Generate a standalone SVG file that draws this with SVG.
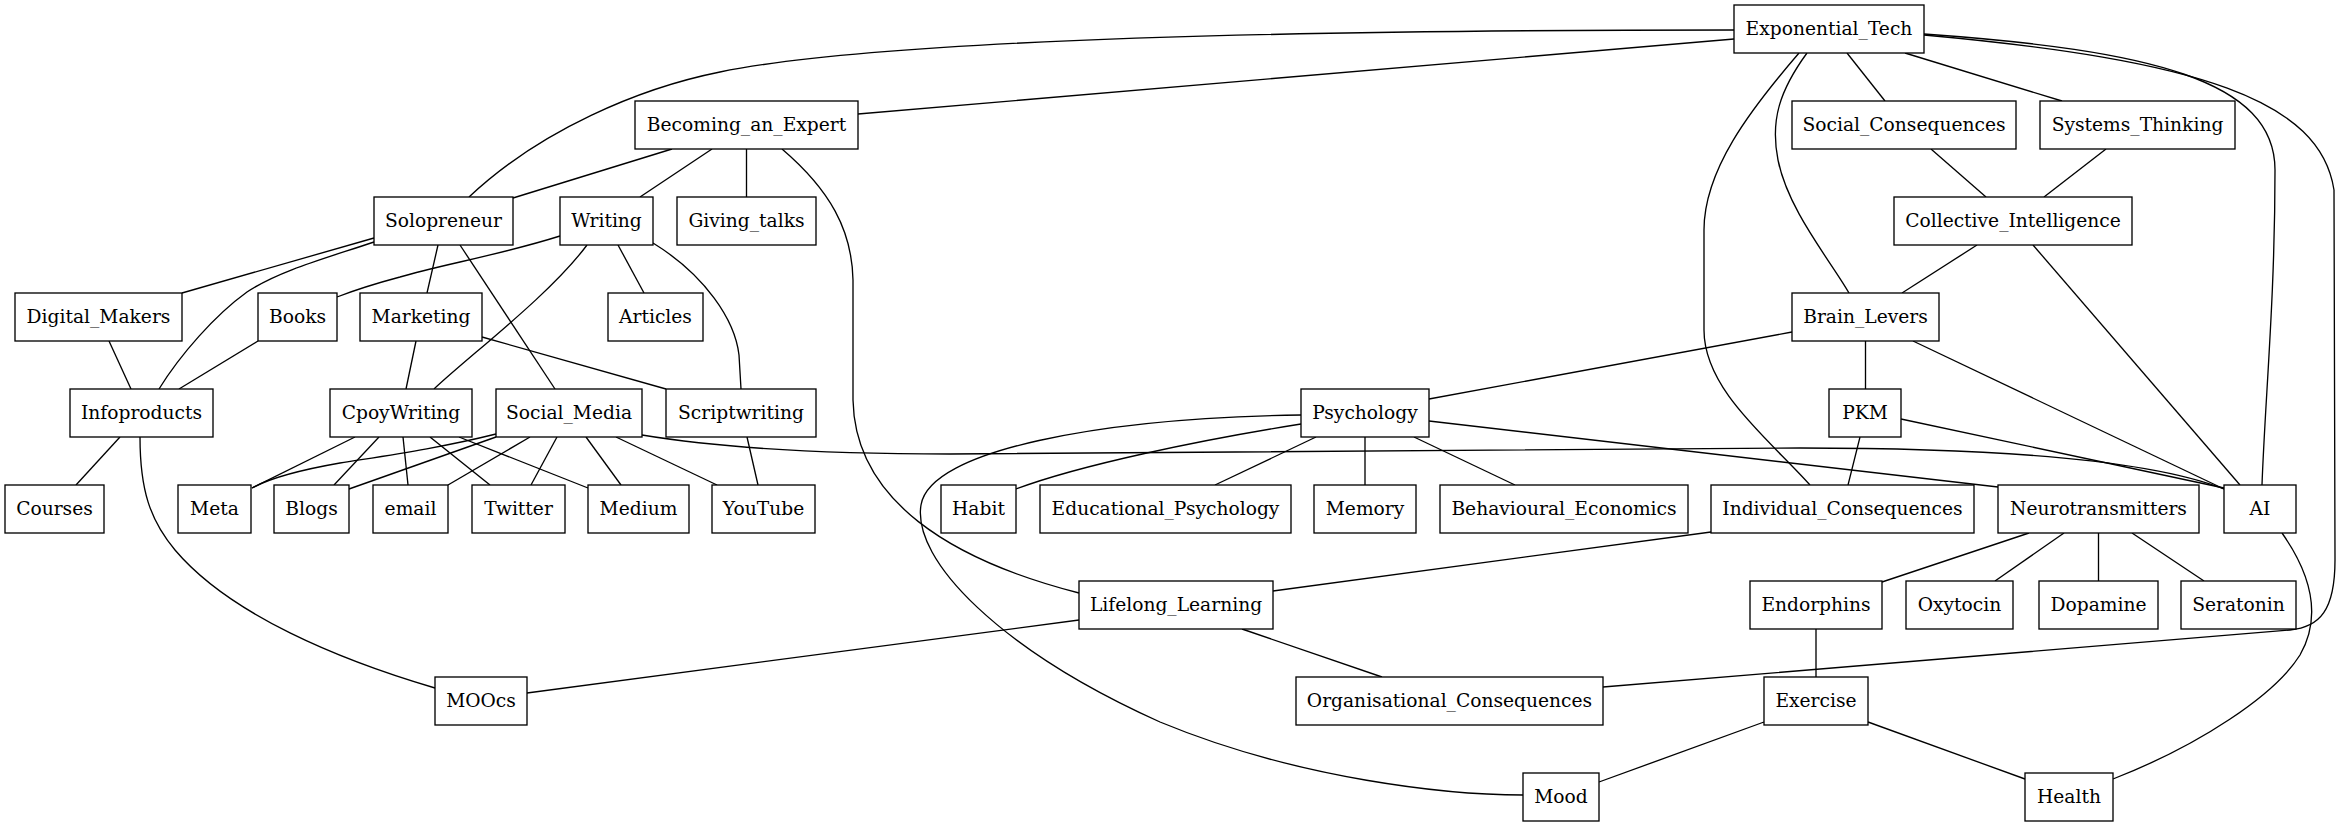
<svg xmlns="http://www.w3.org/2000/svg" width="2342" height="827" viewBox="0 0 2342 827">
<style>
.n rect{fill:#fff;stroke:#000;stroke-width:1.33}
.n text{font-family:"DejaVu Serif",serif;font-size:18.67px;text-anchor:middle;fill:#000}
#edges path{fill:none;stroke:#000;stroke-width:1.33}
</style>
<rect width="2342" height="827" fill="#fff"/>
<g id="edges">
<path d="M1734,30 C1400,30 900,35 720,72 C640,88 540,130 469,197"/>
<path d="M1734,39 L858,114"/>
<path d="M1847,53 L1885,101"/>
<path d="M1905,53 L2062,101"/>
<path d="M1807,53 C1780,90 1770,120 1778,160 C1788,210 1830,260 1849,293"/>
<path d="M1799,53 C1750,110 1704,170 1704,230 L1704,330 C1704,390 1770,440 1810,485"/>
<path d="M1924,34 C2150,50 2275,80 2275,170 C2275,300 2265,400 2262,485"/>
<path d="M1924,35 C2200,60 2320,100 2334,190 L2335,560 C2335,610 2320,627 2290,630 L1603,687"/>
<path d="M672,149 L513,198"/>
<path d="M712,149 L640,197"/>
<path d="M746.5,149 L746.5,197"/>
<path d="M782,149 C830,190 852,230 853,280 L853,400 C855,500 950,560 1079,593"/>
<path d="M374,238 L182,293"/>
<path d="M374,242 C330,257 280,270 247,292 C215,315 180,355 159,389"/>
<path d="M438,245 L427,293"/>
<path d="M460,245 L555,389"/>
<path d="M560,236 C500,255 440,265 400,277 C370,285 350,292 337,297"/>
<path d="M587,245 C550,295 470,355 434,389"/>
<path d="M618,245 L644,293"/>
<path d="M653,243 C705,275 735,320 739,355 L741,389"/>
<path d="M109,341 L131,389"/>
<path d="M258,341 L179,389"/>
<path d="M416,341 L406,389"/>
<path d="M482,337 L666,389"/>
<path d="M120,437 L76,485"/>
<path d="M140,437 C140,490 150,520 175,550 C230,615 340,660 435,688"/>
<path d="M355,437 L252,488"/>
<path d="M379,437 L334,485"/>
<path d="M403,437 L408,485"/>
<path d="M430,437 L490,485"/>
<path d="M459,437 L588,488"/>
<path d="M496,434 C440,448 390,455 340,463 C300,470 270,478 252,488"/>
<path d="M496,437 L349,489"/>
<path d="M530,437 L448,485"/>
<path d="M557,437 L531,485"/>
<path d="M586,437 L621,485"/>
<path d="M616,437 L717,485"/>
<path d="M642,435 C720,448 820,454 950,454 C1300,454 1600,448 1800,448 C2000,448 2150,460 2224,489"/>
<path d="M747,437 L758,485"/>
<path d="M1301,424 C1200,440 1080,465 1016,489"/>
<path d="M1301,415 C1100,418 930,450 921,505 C912,560 1000,650 1160,722 C1300,780 1450,795 1523,795"/>
<path d="M1316,437 L1215,485"/>
<path d="M1365,437 L1365,485"/>
<path d="M1414,437 L1515,485"/>
<path d="M1429,421 L1998,487"/>
<path d="M1792,332 L1429,399"/>
<path d="M1865.5,341 L1865.5,389"/>
<path d="M1913,341 L2224,489"/>
<path d="M1977,245 L1902,293"/>
<path d="M2033,245 L2240,485"/>
<path d="M1931,149 L1986,197"/>
<path d="M2106,149 L2044,197"/>
<path d="M1901,419 L2224,488"/>
<path d="M1860,437 L1848,485"/>
<path d="M1711,532 L1273,591"/>
<path d="M1079,620 L527,693"/>
<path d="M1242,629 L1382,677"/>
<path d="M2029,533 L1882,582"/>
<path d="M2064,533 L1995,581"/>
<path d="M2098.5,533 L2098.5,581"/>
<path d="M2132,533 L2204,581"/>
<path d="M1816,629 L1816,677"/>
<path d="M1764,722 L1599,782"/>
<path d="M1868,722 L2025,779"/>
<path d="M2282,533 C2315,580 2320,620 2300,655 C2275,695 2200,745 2113,779"/>
</g>
<g id="Exponential_Tech" class="n"><rect x="1734" y="5" width="190" height="48"/><text x="1829" y="35">Exponential_Tech</text></g>
<g id="Becoming_an_Expert" class="n"><rect x="635" y="101" width="223" height="48"/><text x="746.5" y="131">Becoming_an_Expert</text></g>
<g id="Social_Consequences" class="n"><rect x="1792" y="101" width="224" height="48"/><text x="1904" y="131">Social_Consequences</text></g>
<g id="Systems_Thinking" class="n"><rect x="2040" y="101" width="195" height="48"/><text x="2137.5" y="131">Systems_Thinking</text></g>
<g id="Solopreneur" class="n"><rect x="374" y="197" width="139" height="48"/><text x="443.5" y="227">Solopreneur</text></g>
<g id="Writing" class="n"><rect x="560" y="197" width="93" height="48"/><text x="606.5" y="227">Writing</text></g>
<g id="Giving_talks" class="n"><rect x="677" y="197" width="139" height="48"/><text x="746.5" y="227">Giving_talks</text></g>
<g id="Collective_Intelligence" class="n"><rect x="1894" y="197" width="238" height="48"/><text x="2013" y="227">Collective_Intelligence</text></g>
<g id="Digital_Makers" class="n"><rect x="15" y="293" width="167" height="48"/><text x="98.5" y="323">Digital_Makers</text></g>
<g id="Books" class="n"><rect x="258" y="293" width="79" height="48"/><text x="297.5" y="323">Books</text></g>
<g id="Marketing" class="n"><rect x="360" y="293" width="122" height="48"/><text x="421" y="323">Marketing</text></g>
<g id="Articles" class="n"><rect x="608" y="293" width="95" height="48"/><text x="655.5" y="323">Articles</text></g>
<g id="Brain_Levers" class="n"><rect x="1792" y="293" width="147" height="48"/><text x="1865.5" y="323">Brain_Levers</text></g>
<g id="Infoproducts" class="n"><rect x="70" y="389" width="143" height="48"/><text x="141.5" y="419">Infoproducts</text></g>
<g id="CpoyWriting" class="n"><rect x="330" y="389" width="142" height="48"/><text x="401" y="419">CpoyWriting</text></g>
<g id="Social_Media" class="n"><rect x="496" y="389" width="146" height="48"/><text x="569" y="419">Social_Media</text></g>
<g id="Scriptwriting" class="n"><rect x="666" y="389" width="150" height="48"/><text x="741" y="419">Scriptwriting</text></g>
<g id="Psychology" class="n"><rect x="1301" y="389" width="128" height="48"/><text x="1365" y="419">Psychology</text></g>
<g id="PKM" class="n"><rect x="1829" y="389" width="72" height="48"/><text x="1865" y="419">PKM</text></g>
<g id="Courses" class="n"><rect x="5" y="485" width="99" height="48"/><text x="54.5" y="515">Courses</text></g>
<g id="Meta" class="n"><rect x="178" y="485" width="73" height="48"/><text x="214.5" y="515">Meta</text></g>
<g id="Blogs" class="n"><rect x="274" y="485" width="75" height="48"/><text x="311.5" y="515">Blogs</text></g>
<g id="email" class="n"><rect x="373" y="485" width="75" height="48"/><text x="410.5" y="515">email</text></g>
<g id="Twitter" class="n"><rect x="472" y="485" width="93" height="48"/><text x="518.5" y="515">Twitter</text></g>
<g id="Medium" class="n"><rect x="588" y="485" width="101" height="48"/><text x="638.5" y="515">Medium</text></g>
<g id="YouTube" class="n"><rect x="712" y="485" width="103" height="48"/><text x="763.5" y="515">YouTube</text></g>
<g id="Habit" class="n"><rect x="941" y="485" width="75" height="48"/><text x="978.5" y="515">Habit</text></g>
<g id="Educational_Psychology" class="n"><rect x="1040" y="485" width="251" height="48"/><text x="1165.5" y="515">Educational_Psychology</text></g>
<g id="Memory" class="n"><rect x="1314" y="485" width="102" height="48"/><text x="1365" y="515">Memory</text></g>
<g id="Behavioural_Economics" class="n"><rect x="1440" y="485" width="248" height="48"/><text x="1564" y="515">Behavioural_Economics</text></g>
<g id="Individual_Consequences" class="n"><rect x="1711" y="485" width="263" height="48"/><text x="1842.5" y="515">Individual_Consequences</text></g>
<g id="Neurotransmitters" class="n"><rect x="1998" y="485" width="201" height="48"/><text x="2098.5" y="515">Neurotransmitters</text></g>
<g id="AI" class="n"><rect x="2224" y="485" width="72" height="48"/><text x="2260" y="515">AI</text></g>
<g id="Lifelong_Learning" class="n"><rect x="1079" y="581" width="194" height="48"/><text x="1176" y="611">Lifelong_Learning</text></g>
<g id="Endorphins" class="n"><rect x="1750" y="581" width="132" height="48"/><text x="1816" y="611">Endorphins</text></g>
<g id="Oxytocin" class="n"><rect x="1906" y="581" width="107" height="48"/><text x="1959.5" y="611">Oxytocin</text></g>
<g id="Dopamine" class="n"><rect x="2039" y="581" width="119" height="48"/><text x="2098.5" y="611">Dopamine</text></g>
<g id="Seratonin" class="n"><rect x="2181" y="581" width="115" height="48"/><text x="2238.5" y="611">Seratonin</text></g>
<g id="MOOcs" class="n"><rect x="435" y="677" width="92" height="48"/><text x="481" y="707">MOOcs</text></g>
<g id="Organisational_Consequences" class="n"><rect x="1296" y="677" width="307" height="48"/><text x="1449.5" y="707">Organisational_Consequences</text></g>
<g id="Exercise" class="n"><rect x="1764" y="677" width="104" height="48"/><text x="1816" y="707">Exercise</text></g>
<g id="Mood" class="n"><rect x="1523" y="773" width="76" height="48"/><text x="1561" y="803">Mood</text></g>
<g id="Health" class="n"><rect x="2025" y="773" width="88" height="48"/><text x="2069" y="803">Health</text></g>
</svg>
